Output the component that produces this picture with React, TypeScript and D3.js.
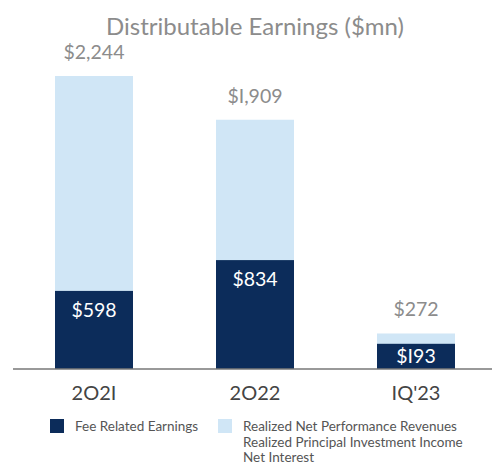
import * as d3 from 'd3'

const categories = ['2021', '2022', '1Q\'23']
const catLabels = ['2O2I', '2O22', 'IQ\'23']
const feeRelated = [598, 834, 193]
const totals = [2244, 1909, 272]
const legendItems = ['Fee Related Earnings', 'Realized Net Performance Revenues']
const legendExtra = ['Realized Principal Investment Income', 'Net Interest']

const W = 492
const H = 465
const DARK = '#0c2c5a'
const LIGHT = '#d0e6f6'
const FONT = 'Lato, "Open Sans", sans-serif'

export default function App() {
  const x = d3.scalePoint<string>().domain(categories).range([94, 416])
  const y = d3.scaleLinear().domain([0, 2244]).range([369, 76])
  const bw = 78

  return (
    <svg width={W} height={H} style={{ position: 'absolute', left: 0, top: 0, background: '#fff' }} fontFamily={FONT}>
      <text x={255} y={35} textAnchor="middle" fontSize={24} fill="#8c8c8c">
        Distributable Earnings ($mn)
      </text>

      {categories.map((c, i) => {
        const cx = x(c) as number
        // inner label sits near the top of the dark segment, or centred when the segment is short
        const innerY = Math.min(y(feeRelated[i]) + 26, (y(feeRelated[i]) + y(0)) / 2 + 7)
        return (
          <g key={c}>
            <rect x={cx - bw / 2} y={y(totals[i])} width={bw} height={y(0) - y(totals[i])} fill={LIGHT} />
            <rect x={cx - bw / 2} y={y(feeRelated[i])} width={bw} height={y(0) - y(feeRelated[i])} fill={DARK} />
            <text x={cx} y={y(totals[i]) - 17} textAnchor="middle" fontSize={19.5} fill="#8c8c8c">
              {'$' + d3.format(',')(totals[i]).replace(/1/g, 'I')}
            </text>
            <text x={cx} y={innerY} textAnchor="middle" fontSize={19.5} fill="#fff">
              {'$' + String(feeRelated[i]).replace(/1/g, 'I')}
            </text>
            <text x={cx} y={400} textAnchor="middle" fontSize={20} fill="#444">
              {catLabels[i]}
            </text>
          </g>
        )
      })}

      <line x1={13} x2={W} y1={y(0)} y2={y(0)} stroke="#777" strokeWidth={1.5} />

      <rect x={50} y={419} width={14} height={14} fill={DARK} />
      <text x={75} y={431} fontSize={13.5} fill="#555">{legendItems[0]}</text>
      <rect x={218} y={419} width={14} height={14} fill={LIGHT} />
      <text x={243} y={431} fontSize={13.5} fill="#555">{legendItems[1]}</text>
      {legendExtra.map((t, i) => (
        <text key={t} x={243} y={446.5 + i * 15.5} fontSize={13.5} fill="#555">{t}</text>
      ))}
    </svg>
  )
}
